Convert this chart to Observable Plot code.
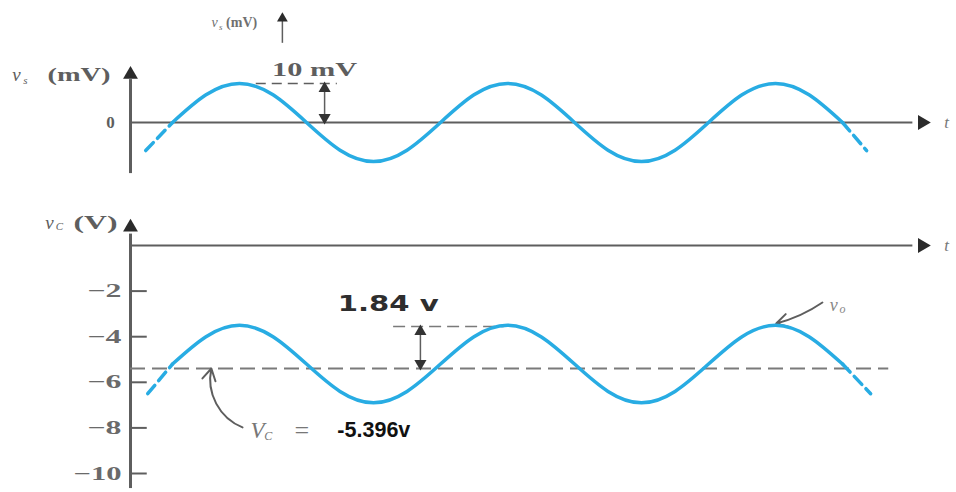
<!DOCTYPE html>
<html><head><meta charset="utf-8">
<script src="https://cdn.jsdelivr.net/npm/d3@7"></script>
<script src="https://cdn.jsdelivr.net/npm/@observablehq/plot@0.6"></script>
<style>
body{margin:0;background:#fff;width:956px;height:492px;overflow:hidden}
#chart svg{display:block;background:#fff}
</style>
</head><body><div id="chart"></div>
<script>
// Phase axis t: one unit = a quarter of a period (axis itself unlabeled in the figure)
const tSolid  = [0,0.5,1,1.5,2,2.5,3,3.5,4,4.5,5,5.5,6,6.5,7,7.5,8,8.5,9,9.5,10];
// v_s in mV (input signal)
const vsSolid = [0,7.1,10,7.1,0,-7.1,-10,-7.1,0,7.1,10,7.1,0,-7.1,-10,-7.1,0,7.1,10,7.1,0];
// v_C in V (collector voltage)
const vcSolid = [-5.2,-4.0,-3.5,-4.0,-5.2,-6.4,-6.9,-6.4,-5.2,-4.0,-3.5,-4.0,-5.2,-6.4,-6.9,-6.4,-5.2,-4.0,-3.5,-4.0,-5.2];
// dashed lead-in / lead-out pieces
const tDashL  = [-0.4, 0],  vsDashL = [-7.2, 0];
const tDashR  = [10, 10.36], vsDashR = [0, -7.2];
const tDashLC = [-0.37, 0], vcDashL = [-6.5, -5.2];
const tDashRC = [10, 10.42], vcDashR = [-5.2, -6.5];
// tick labels / annotation values
const vcTicks = [-2, -4, -6, -8, -10];
const VC = -5.396;      // quiescent collector voltage
const swingC = 1.84;    // output peak swing (V)
const swingS = 10;      // input peak swing (mV)

const BLUE = "#28ace3", GRAY = "#5e5e5e", SERIF = "Liberation Serif, DejaVu Serif, serif";
const tAxis = -0.627, tEnd = 11.343;
const xScale = {domain: [tAxis, tEnd], range: [130, 932]};
const pts = (ts, vs) => ts.map((t, i) => ({t, v: vs[i]}));

// ---------- top panel ----------
const topChart = Plot.plot({
  width: 956, height: 190, margin: 0,
  x: {...xScale, axis: null},
  y: {domain: [-10, 10], range: [161, 83], axis: null},
  marks: [
    Plot.ruleX([tAxis], {y1: -13.1, y2: 11, stroke: GRAY, strokeWidth: 3}),
    Plot.dot([{t: tAxis, v: 12.3}], {x: "t", y: "v", symbol: "triangle", r: 5.5, fill: "#2b2b2b", stroke: null}),
    Plot.ruleY([0], {x1: tAxis, x2: 11.05, stroke: GRAY, strokeWidth: 2}),
    Plot.dot([{t: 11.19, v: 0}], {x: "t", y: "v", symbol: "triangle", r: 5.5, rotate: 90, fill: "#2b2b2b", stroke: null}),
    Plot.text(["t"], {x: tEnd, y: 0, dx: 14, text: d => d, fontFamily: SERIF, fontStyle: "italic", fontSize: 17, fill: "#777"}),
    Plot.text(["0"], {x: tAxis, y: 0, dx: -20, text: d => d, fontFamily: SERIF, fontWeight: "bold", fontSize: 17, fill: GRAY}),
    // axis label v_s (mV)
    Plot.text(["v"], {x: tAxis, y: 12.1, dx: -114, text: d => d, fontFamily: SERIF, fontStyle: "italic", fontSize: 19, fill: GRAY}),
    Plot.text(["s"], {x: tAxis, y: 12.1, dx: -105, dy: 5, text: d => d, fontFamily: SERIF, fontStyle: "italic", fontSize: 11, fill: GRAY}),
    Plot.text(["(mV)"], {x: tAxis, y: 12.1, dx: -20, textAnchor: "end", text: d => d, fontFamily: SERIF, fontWeight: "bold", fontSize: 19, fill: GRAY}),
    // small stray label at top
    Plot.text(["v"], {x: 0.63, y: 25.6, text: d => d, fontFamily: SERIF, fontStyle: "italic", fontSize: 14, fill: "#707070"}),
    Plot.text(["s"], {x: 0.63, y: 25.6, dx: 6, dy: 4, text: d => d, fontFamily: SERIF, fontStyle: "italic", fontSize: 9, fill: "#707070"}),
    Plot.text(["(mV)"], {x: 0.80, y: 25.6, textAnchor: "start", text: d => d, fontFamily: SERIF, fontWeight: "bold", fontSize: 14, fill: "#707070"}),
    Plot.ruleX([1.64], {y1: 20.3, y2: 26, stroke: GRAY, strokeWidth: 1.5}),
    Plot.dot([{t: 1.64, v: 26.7}], {x: "t", y: "v", symbol: "triangle", r: 4, fill: "#2b2b2b", stroke: null}),
    // 10 mV annotation
    Plot.ruleY([swingS], {x1: 1.25, x2: 2.46, stroke: GRAY, strokeWidth: 1.5, strokeDasharray: "10,6"}),
    Plot.ruleX([2.27], {y1: 1.5, y2: swingS - 1.5, stroke: GRAY, strokeWidth: 1.5}),
    Plot.dot([{t: 2.27, v: swingS}], {x: "t", y: "v", dy: 5, symbol: "triangle", r: 4.5, fill: "#333", stroke: null}),
    Plot.dot([{t: 2.27, v: 0}], {x: "t", y: "v", dy: -5, symbol: "triangle", rotate: 180, r: 4.5, fill: "#333", stroke: null}),
    Plot.text([`${swingS} mV`], {x: 2.12, y: 13.3, text: d => d, fontFamily: SERIF, fontWeight: "bold", fontSize: 18, fill: GRAY}),
    // signal
    Plot.line(pts(tDashL, vsDashL), {x: "t", y: "v", stroke: BLUE, strokeWidth: 3.5, strokeDasharray: "11,6"}),
    Plot.line(pts(tSolid, vsSolid), {x: "t", y: "v", curve: "natural", stroke: BLUE, strokeWidth: 3.5}),
    Plot.line(pts(tDashR, vsDashR), {x: "t", y: "v", stroke: BLUE, strokeWidth: 3.5, strokeDasharray: "11,6"})
  ]
});

// ---------- bottom panel ----------
const bottomChart = Plot.plot({
  width: 956, height: 302, margin: 0,
  x: {...xScale, axis: null},
  y: {domain: [0, -10], range: [55, 283], axis: null},
  marks: [
    Plot.ruleX([tAxis], {y1: 0.5, y2: -10.66, stroke: GRAY, strokeWidth: 3}),
    Plot.dot([{t: tAxis, v: 0.8}], {x: "t", y: "v", symbol: "triangle", r: 5.5, fill: "#2b2b2b", stroke: null}),
    Plot.ruleY([0], {x1: tAxis, x2: 11.05, stroke: GRAY, strokeWidth: 2}),
    Plot.dot([{t: 11.19, v: 0}], {x: "t", y: "v", symbol: "triangle", r: 5.5, rotate: 90, fill: "#2b2b2b", stroke: null}),
    Plot.text(["t"], {x: tEnd, y: 0, dx: 14, text: d => d, fontFamily: SERIF, fontStyle: "italic", fontSize: 17, fill: "#777"}),
    Plot.ruleY(vcTicks, {x1: tAxis, x2: tAxis + 0.25, stroke: GRAY, strokeWidth: 2}),
    Plot.text(vcTicks, {x: tAxis, y: d => d, dx: -9, textAnchor: "end", text: d => "\u2212" + Math.abs(d), fontFamily: SERIF, fontWeight: "bold", fontSize: 19, fill: "#6a6a6a"}),
    // axis label v_C (V)
    Plot.text(["v"], {x: tAxis, y: 1.0, dx: -81, text: d => d, fontFamily: SERIF, fontStyle: "italic", fontSize: 19, fill: GRAY}),
    Plot.text(["C"], {x: tAxis, y: 1.0, dx: -71, dy: 4, text: d => d, fontFamily: SERIF, fontStyle: "italic", fontSize: 11, fill: GRAY}),
    Plot.text(["(V)"], {x: tAxis, y: 1.0, dx: -13, textAnchor: "end", text: d => d, fontFamily: SERIF, fontWeight: "bold", fontSize: 19, fill: GRAY}),
    // quiescent level
    Plot.ruleY([VC], {x1: tAxis, x2: 10.69, stroke: "#7a7a7a", strokeWidth: 2, strokeDasharray: "15,7"}),
    // swing annotation
    Plot.ruleY([VC + swingC], {x1: 3.3, x2: 4.95, stroke: "#7a7a7a", strokeWidth: 1.5, strokeDasharray: "12,6"}),
    Plot.ruleX([3.70], {y1: VC + 0.2, y2: VC + swingC - 0.2, stroke: GRAY, strokeWidth: 1.5}),
    Plot.dot([{t: 3.70, v: VC + swingC}], {x: "t", y: "v", dy: 5, symbol: "triangle", r: 4.5, fill: "#333", stroke: null}),
    Plot.dot([{t: 3.70, v: VC}], {x: "t", y: "v", dy: -5, symbol: "triangle", rotate: 180, r: 4.5, fill: "#333", stroke: null}),
    Plot.text([`${swingC} v`], {x: 3.22, y: -2.59, text: d => d, fontFamily: "DejaVu Sans, sans-serif", fontWeight: "bold", fontSize: 21, fill: "#2e2e2e"}),
    // V_C = -5.396v
    Plot.text(["V"], {x: 1.27, y: -8.11, text: d => d, fontFamily: SERIF, fontStyle: "italic", fontSize: 23, fill: "#777"}),
    Plot.text(["C"], {x: 1.43, y: -8.11, dy: 6, text: d => d, fontFamily: SERIF, fontStyle: "italic", fontSize: 12, fill: "#777"}),
    Plot.text(["="], {x: 1.93, y: -8.11, text: d => d, fontFamily: SERIF, fontSize: 26, fill: "#777"}),
    Plot.text([`${VC}v`], {x: 2.46, y: -8.11, textAnchor: "start", text: d => d, fontFamily: "Liberation Sans Narrow, Arial Narrow, Liberation Sans, sans-serif", fontWeight: "bold", fontSize: 22, fill: "#111"}),
    Plot.arrow([{x1: 1.045, y1: -7.98, x2: 0.58, y2: VC}], {x1: "x1", y1: "y1", x2: "x2", y2: "y2", bend: 40, stroke: GRAY, strokeWidth: 2, headLength: 10}),
    // v_o label
    Plot.text(["v"], {x: 9.87, y: -2.63, text: d => d, fontFamily: SERIF, fontStyle: "italic", fontSize: 18, fill: "#888"}),
    Plot.text(["o"], {x: 10.0, y: -2.63, dy: 4, text: d => d, fontFamily: SERIF, fontStyle: "italic", fontSize: 12, fill: "#888"}),
    Plot.arrow([{x1: 9.70, y1: -2.5, x2: 9.01, y2: -3.42}], {x1: "x1", y1: "y1", x2: "x2", y2: "y2", bend: 10, stroke: GRAY, strokeWidth: 2, headLength: 10}),
    // signal
    Plot.line(pts(tDashLC, vcDashL), {x: "t", y: "v", stroke: BLUE, strokeWidth: 3.5, strokeDasharray: "11,6"}),
    Plot.line(pts(tSolid, vcSolid), {x: "t", y: "v", curve: "natural", stroke: BLUE, strokeWidth: 3.5}),
    Plot.line(pts(tDashRC, vcDashR), {x: "t", y: "v", stroke: BLUE, strokeWidth: 3.5, strokeDasharray: "11,6"})
  ]
});

// stretch texts to the widths they occupy in the (horizontally stretched) figure
const widths = {"10 mV": 85, "(mV)": 63, "(V)": 44, "1.84 v": 101, "-5.396v": 73,
  "\u22122": 34, "\u22124": 34, "\u22126": 34, "\u22128": 34, "\u221210": 48};
for (const svg of [topChart, bottomChart]) {
  d3.select(svg).selectAll("text").each(function() {
    const w = widths[this.textContent];
    const fs = parseFloat(this.getAttribute("font-size") || this.parentNode.getAttribute("font-size") || "19");
    if (w && fs >= 15) {
      this.setAttribute("textLength", w);
      this.setAttribute("lengthAdjust", "spacingAndGlyphs");
    }
  });
}
document.getElementById("chart").append(topChart, bottomChart);
</script>
</body></html>
